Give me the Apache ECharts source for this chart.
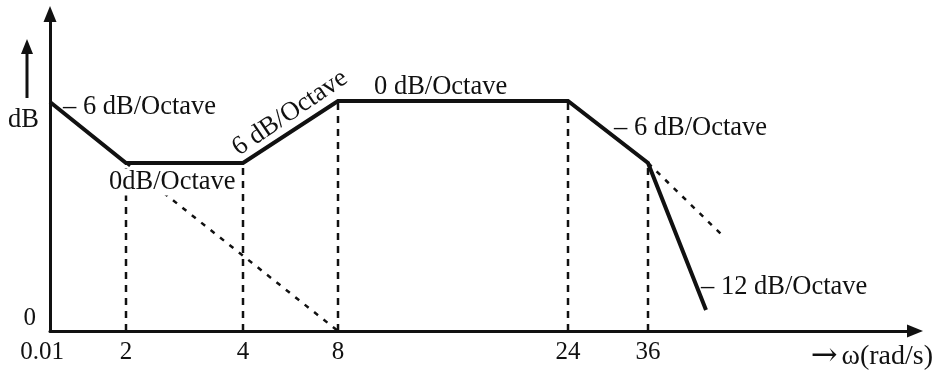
<!DOCTYPE html>
<html>
<head>
<meta charset="utf-8">
<script src="https://cdn.jsdelivr.net/npm/echarts@6/dist/echarts.min.js"></script>
<style>
html, body { margin: 0; padding: 0; background: #fff; }
#chart { width: 935px; height: 371px; }
</style>
</head>
<body>
<div id="chart"></div>
<script>
// schematic Bode magnitude plot, units are drawing units along each axis
var omegaLabels = ['0.01', '2', '4', '8', '24', '36'];
var omegaPos = [0, 76, 193, 288, 518, 598];

// solid magnitude curve
var magPos = [0, 76, 193, 288, 518, 598, 656];
var magDb = [229, 168, 168, 230, 230, 168, 21];

// dotted asymptotes
var asym1Pos = [76, 288];
var asym1Db = [168, 0];
var asym2Pos = [598, 674];
var asym2Db = [168, 94];

// dashed drop lines at 2, 4, 8, 24, 36
var dropDb = [168, 168, 230, 230, 168];

var FONT = 'Liberation Serif';
var INK = '#111';

function pairs(xs, ys) {
    var out = [];
    for (var i = 0; i < xs.length; i++) {
        out.push([xs[i], ys[i]]);
    }
    return out;
}

function labelFor(v) {
    var i = omegaPos.indexOf(v);
    if (i < 0) return '';
    if (i === 0) return '{first|' + omegaLabels[i] + '}';
    return omegaLabels[i];
}

var series = [];
series.push({
    type: 'line',
    data: pairs(magPos, magDb),
    symbol: 'none',
    z: 5,
    lineStyle: { color: INK, width: 4, join: 'miter' }
});
series.push({
    type: 'line',
    data: pairs(asym1Pos, asym1Db),
    symbol: 'none',
    lineStyle: { color: INK, width: 2.5, type: [5, 7] }
});
series.push({
    type: 'line',
    data: pairs(asym2Pos, asym2Db),
    symbol: 'none',
    lineStyle: { color: INK, width: 2.5, type: [5, 7] }
});
for (var k = 0; k < dropDb.length; k++) {
    series.push({
        type: 'line',
        data: [[omegaPos[k + 1], 0], [omegaPos[k + 1], dropDb[k]]],
        symbol: 'none',
        lineStyle: { color: INK, width: 2.5, type: [7, 6] }
    });
}

function note(text, x, y, extra) {
    var el = {
        type: 'text',
        x: x,
        y: y,
        z: 100,
        style: {
            text: text,
            font: '26.5px "' + FONT + '"',
            fill: INK,
            textVerticalAlign: 'middle'
        }
    };
    if (extra) {
        for (var key in extra) {
            if (key === 'style') {
                for (var s in extra.style) el.style[s] = extra.style[s];
            } else {
                el[key] = extra[key];
            }
        }
    }
    return el;
}

var option = {
    animation: false,
    backgroundColor: '#fff',
    grid: { left: 50, right: 20, top: 14, bottom: 40, containLabel: false, outerBoundsMode: 'none' },
    xAxis: {
        type: 'value',
        min: 0,
        max: 865,
        splitLine: { show: false },
        axisTick: { show: false },
        axisLine: {
            show: true,
            symbol: ['none', 'triangle'],
            symbolSize: [13, 16],
            lineStyle: { color: INK, width: 3 }
        },
        axisLabel: {
            customValues: omegaPos,
            formatter: labelFor,
            fontFamily: FONT,
            fontSize: 25,
            color: INK,
            margin: 9,
            rich: {
                first: { fontFamily: FONT, fontSize: 25, color: INK, padding: [0, 16, 0, 0] }
            }
        }
    },
    yAxis: {
        type: 'value',
        min: 0,
        max: 317,
        splitLine: { show: false },
        axisTick: { show: false },
        axisLine: {
            show: true,
            symbol: ['none', 'triangle'],
            symbolSize: [13, 16],
            lineStyle: { color: INK, width: 3 }
        },
        axisLabel: {
            customValues: [0],
            fontFamily: FONT,
            fontSize: 25,
            color: INK,
            margin: 14,
            verticalAlign: 'bottom'
        }
    },
    series: series,
    graphic: [
        note('dB', 8, 120),
        { type: 'line', z: 100, shape: { x1: 27, y1: 98, x2: 27, y2: 52 }, style: { stroke: INK, lineWidth: 3 } },
        { type: 'polygon', z: 100, shape: { points: [[27, 39], [21, 54], [33, 54]] }, style: { fill: INK } },
        note('\u2013 6 dB/Octave', 63, 107),
        note('0dB/Octave', 109, 182, { style: { backgroundColor: '#fff', padding: [0, 0, 0, 0] } }),
        note('6 dB/Octave', 290, 113, { rotation: 34 * Math.PI / 180, style: { textAlign: 'center' } }),
        note('0 dB/Octave', 374, 87),
        note('\u2013 6 dB/Octave', 614, 128),
        note('\u2013 12 dB/Octave', 701, 287),
        note('{arr|\u2192}{w|\u03c9(rad/s)}', 933, 357, {
            style: {
                textAlign: 'right',
                rich: {
                    arr: { fontFamily: 'DejaVu Serif', fontSize: 32, fill: INK, padding: [0, 4, 0, 0] },
                    w: { fontFamily: FONT, fontSize: 28, fill: INK }
                }
            }
        })
    ]
};

function fillChart(elementName, opt) {
    var dataChart = echarts.init(document.getElementById(elementName));
    if (opt && typeof opt === 'object') {
        dataChart.setOption(opt, true);
    }
}

fillChart('chart', option);
</script>
</body>
</html>
